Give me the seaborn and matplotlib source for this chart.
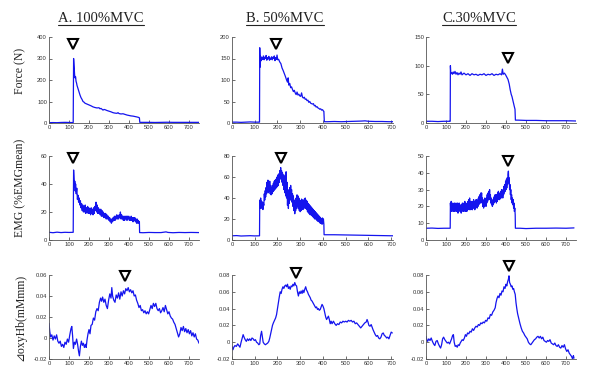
import numpy as np
import pandas as pd
import matplotlib
matplotlib.use("Agg")
import matplotlib.pyplot as plt
import seaborn as sns
from matplotlib.lines import Line2D

sns.set_theme(style="white")
plt.rcParams['font.family'] = ['DejaVu Sans']

# ---------------- data (time s, value) ----------------
titles = ["A. 100%MVC", "B. 50%MVC", "C.30%MVC"]
row_labels = ["Force (N)", "EMG (%EMGmean)", "\u22bfoxyHb(mMmm)"]

force_A = [(0,1.5),(20,2),(40,1.5),(60,2.5),(80,3),(100,2.5),(115,2),(121,2),(123,300),(126,255),(128,225),(130,210),
           (133,215),(135,195),(138,185),(140,175),(145,160),(150,145),(155,130),(160,118),(165,110),(170,100),(175,97),
           (180,92),(190,88),(200,84),(210,80),(220,75),(230,72),(240,70),(250,71),(255,66),(260,68),(270,60),(275,63),
           (280,62),(290,58),(300,55),(310,52),(320,48),(330,46),(340,45),(345,48),(350,44),(360,42),(370,43),(380,40),
           (390,37),(400,35),(410,33),(420,32),(430,30),(440,28),(448,26),(452,24),(454,3),(470,3),(500,3),(530,2.5),
           (560,3),(590,3.5),(620,3),(650,3),(680,3),(710,3),(750,3)]
force_B = [(0,2),(20,2),(40,1.5),(60,2),(80,2.5),(100,2),(118,2),(121,2),(122,175),(124,130),(126,155),(129,145),
           (132,152),(135,148),(138,156),(141,147),(144,153),(147,150),(150,157),(153,146),(156,152),(159,149),(162,155),
           (165,146),(168,151),(171,148),(174,154),(177,147),(180,153),(183,150),(186,156),(189,145),(192,152),(195,148),
           (198,158),(201,147),(205,148),(210,142),(215,138),(220,128),(225,122),(230,115),(235,108),(240,100),(244,95),
           (247,105),(250,88),(254,92),(258,82),(262,84),(266,78),(270,73),(274,76),(278,70),(282,66),(286,72),(290,65),
           (294,67),(298,63),(302,62),(306,70),(310,60),(314,58),(318,60),(322,55),(326,56),(330,52),(334,53),(338,48),
           (342,50),(346,46),(350,45),(354,44),(358,45),(362,40),(366,41),(370,37),(374,38),(378,35),(382,34),(386,32),
           (390,33),(394,30),(398,31),(402,28),(404,27),(406,3),(420,3),(450,3.5),(480,3),(510,3.5),(540,4),(570,4.5),
           (585,5),(600,4),(630,3.5),(660,3.5),(690,3),(708,3)]
force_C = [(0,3),(30,3),(60,2.5),(90,3),(118,3),(121,3),(122,100),(124,86),(128,88),(132,85),(136,89),(140,86),
           (145,90),(150,85),(155,88),(160,84),(165,87),(170,85),(175,89),(180,84),(190,87),(200,84),(210,86),(220,83),
           (230,86),(240,84),(250,85),(260,83),(270,85),(280,84),(290,86),(300,83),(310,85),(320,84),(330,86),(340,83),
           (350,85),(360,84),(370,86),(378,84),(382,94),(386,85),(392,87),(398,84),(404,80),(410,76),(416,68),(421,58),
           (426,50),(430,46),(434,40),(438,34),(442,28),(445,24),(447,5),(460,5),(500,4.5),(550,4.5),(600,4),(650,4),
           (700,4),(750,3.5)]

emg_A = [(0,5.5),(20,5.2),(40,5.6),(60,5.3),(80,5.5),(100,5.4),(118,5.5),(121,5.5),(123,50),(125,44),(127,38),
         (129,42),(131,35),(133,40),(136,33),(139,37),(142,29),(145,32),(148,27),(151,30),(154,25),(157,28),(160,23),
         (163,26),(166,21),(169,25),(172,20),(175,24),(178,20),(181,25),(184,19),(187,23),(190,20),(193,24),(196,19),
         (199,23),(202,19),(205,22),(208,18),(211,23),(214,19),(217,22),(220,18),(223,23),(226,19),(229,24),(232,21),
         (235,27),(238,20),(241,25),(244,19),(247,23),(250,19),(253,22),(256,18),(259,22),(262,17),(265,21),(268,17),
         (271,20),(274,16),(277,19),(280,16),(283,19),(286,15),(289,18),(292,15),(297,17),(300,14),(303,16),(306,13),
         (309,15),(312,12),(315,15),(318,13),(321,16),(324,14),(327,17),(330,14),(333,17),(336,15),(339,18),(342,15),
         (345,17),(348,15),(351,18),(354,16),(357,20),(360,15),(363,18),(366,15),(369,17),(372,14),(375,17),(378,14),
         (381,17),(384,15),(387,17),(390,14),(393,17),(396,15),(399,17),(402,14),(405,16),(408,14),(411,17),(414,14),
         (417,16),(420,13),(423,16),(426,14),(429,16),(432,13),(435,15),(438,12),(441,15),(444,12),(447,14),(450,12),
         (452,13),(453,5.3),(470,5.2),(500,5.4),(530,5.3),(560,5.3),(585,5.8),(595,5.4),(620,5.2),(650,5.4),(680,5.3),
         (710,5.4),(750,5.3)]
emg_B = [(0,4),(20,4.2),(40,3.8),(60,4),(80,4.1),(100,3.9),(120,4),(121,4),(122,38),(124,30),(126,40),(128,31),
         (130,37),(132,30),(134,36),(136,29),(138,35),(140,33),(142,44),(144,38),(146,47),(148,41),(150,50),(152,44),
         (154,55),(156,46),(158,57),(160,45),(162,54),(164,47),(166,56),(168,44),(170,52),(172,43),(174,50),(176,44),
         (178,52),(180,46),(182,54),(184,47),(186,56),(188,48),(190,57),(192,49),(194,58),(196,50),(198,60),(200,51),
         (202,62),(204,52),(206,63),(208,55),(210,66),(212,58),(214,69),(216,60),(218,66),(220,55),(222,64),(224,52),
         (226,62),(228,48),(230,60),(232,45),(234,62),(236,42),(238,65),(240,40),(242,55),(244,33),(246,48),(248,30),
         (250,45),(252,35),(254,50),(256,38),(258,52),(260,40),(262,48),(264,36),(266,44),(268,32),(270,42),(272,28),
         (274,38),(276,25),(278,35),(280,28),(282,40),(284,30),(286,43),(288,32),(290,42),(292,30),(294,40),(296,28),
         (298,38),(300,27),(302,37),(304,28),(306,39),(308,30),(310,38),(312,29),(314,37),(316,30),(318,39),(320,31),
         (322,40),(324,30),(326,38),(328,29),(330,37),(332,27),(334,35),(336,26),(338,34),(340,25),(342,33),(344,24),
         (346,32),(348,24),(350,31),(352,23),(354,30),(356,22),(358,29),(360,21),(362,28),(364,20),(366,27),(368,20),
         (370,26),(372,19),(374,25),(376,18),(378,24),(380,18),(382,23),(384,17),(386,22),(388,16),(390,21),(392,16),
         (394,20),(396,15),(398,21),(400,16),(402,20),(404,15),(405,5),(420,5),(450,5),(500,4.8),(550,4.5),(600,4.4),
         (650,4.2),(700,4),(708,4)]
emg_C = [(0,7),(30,7.1),(60,6.9),(90,7),(119,7),(121,7),(122,22),(124,18),(126,23),(128,17),(130,21),(132,18),
         (134,22),(136,17),(138,21),(140,18),(142,22),(144,17),(146,20),(148,18),(150,22),(152,17),(154,21),(156,18),
         (158,22),(160,16),(162,21),(164,17),(166,22),(168,18),(170,21),(172,17),(174,20),(176,16),(178,21),(180,17),
         (182,22),(184,18),(186,21),(188,17),(190,22),(192,18),(194,23),(196,17),(198,22),(200,18),(202,21),(204,17),
         (206,22),(208,18),(210,23),(212,19),(214,24),(216,18),(218,25),(220,19),(222,23),(224,18),(226,22),(228,19),
         (230,23),(232,18),(234,22),(236,19),(238,24),(240,19),(242,23),(244,18),(246,22),(248,19),(250,24),(252,20),
         (254,24),(256,19),(258,23),(260,20),(262,25),(264,21),(266,26),(268,22),(270,27),(272,22),(274,28),(276,23),
         (278,28),(280,22),(282,25),(284,20),(286,23),(288,19),(290,24),(292,20),(294,25),(296,21),(298,23),(300,20),
         (302,25),(304,22),(306,27),(308,23),(310,28),(312,24),(314,29),(316,25),(318,30),(320,24),(322,27),(324,22),
         (326,25),(328,21),(330,24),(332,20),(334,23),(336,21),(338,25),(340,22),(342,26),(344,23),(346,27),(348,23),
         (350,26),(352,22),(354,27),(356,23),(358,28),(360,24),(362,29),(364,25),(366,28),(368,24),(370,27),(372,25),
         (374,29),(376,25),(378,30),(380,26),(382,29),(384,25),(386,30),(388,27),(390,32),(392,28),(394,33),(396,29),
         (398,35),(400,30),(402,36),(404,31),(406,37),(408,33),(410,39),(412,41),(414,34),(416,37),(418,30),(420,33),
         (422,27),(424,30),(426,24),(428,27),(430,22),(432,25),(434,21),(436,24),(438,19),(440,22),(442,17),(444,19),
         (446,15),(447,7),(470,7),(500,6.8),(550,7),(600,7),(650,7.1),(700,7),(740,7.2)]

oxy_A = [(0,0.014),(4,0.006),(8,0.001),(14,0.003),(20,-0.002),(26,0.002),(32,-0.001),(38,0.003),(44,-0.003),
         (50,-0.005),(56,-0.003),(62,-0.008),(68,-0.006),(74,-0.009),(80,-0.004),(86,-0.006),(92,-0.001),(98,-0.004),
         (104,0.003),(110,0.009),(114,0.011),(118,0.002),(122,-0.01),(127,-0.004),(132,-0.006),(138,-0.001),
         (143,-0.006),(148,-0.013),(152,-0.017),(157,-0.008),(162,-0.003),(167,-0.007),(172,-0.005),(177,-0.009),
         (182,-0.006),(186,-0.009),(190,-0.002),(195,0.004),(200,0.008),(205,0.004),(210,0.012),(216,0.013),
         (222,0.019),(228,0.017),(234,0.025),(240,0.028),(246,0.026),(252,0.034),(258,0.038),(263,0.035),(268,0.039),
         (274,0.034),(280,0.037),(286,0.031),(292,0.028),(298,0.036),(304,0.042),(310,0.038),(314,0.048),(318,0.040),
         (324,0.036),(330,0.034),(336,0.041),(342,0.038),(348,0.043),(354,0.037),(360,0.044),(366,0.040),(372,0.045),
         (378,0.042),(384,0.047),(390,0.045),(396,0.048),(402,0.044),(408,0.046),(414,0.043),(420,0.045),(426,0.040),
         (432,0.041),(438,0.036),(444,0.033),(450,0.029),(456,0.031),(462,0.026),(468,0.027),(474,0.024),(480,0.026),
         (486,0.023),(492,0.025),(498,0.023),(504,0.027),(510,0.031),(516,0.028),(522,0.033),(528,0.030),(534,0.033),
         (540,0.028),(546,0.026),(552,0.028),(558,0.024),(564,0.026),(570,0.029),(576,0.025),(582,0.031),(588,0.027),
         (594,0.023),(600,0.025),(606,0.021),(612,0.019),(618,0.018),(624,0.015),(630,0.013),(636,0.009),(642,0.005),
         (648,0.001),(654,0.004),(660,0.010),(666,0.007),(672,0.011),(678,0.006),(684,0.009),(690,0.005),(696,0.008),
         (702,0.004),(708,0.007),(714,0.002),(720,0.005),(726,0.001),(732,0.004),(738,-0.001),(744,-0.002),(750,-0.005)]
oxy_B = [(0,-0.005),(4,-0.009),(8,-0.006),(13,-0.004),(19,-0.005),(25,-0.002),(30,-0.004),(35,-0.006),(40,0.0),
         (45,0.005),(49,0.009),(53,0.006),(58,0.003),(63,0.001),(68,0.004),(73,0.002),(78,0.004),(83,0.002),(88,0.005),
         (93,0.004),(98,0.002),(103,0.003),(108,0.0),(113,-0.001),(118,-0.003),(122,-0.002),(126,0.008),(130,0.013),
         (134,0.006),(137,0.0),(142,-0.002),(147,-0.003),(152,-0.002),(157,-0.001),(162,0.001),(166,0.005),(170,0.01),
         (174,0.015),(178,0.02),(182,0.023),(187,0.026),(192,0.029),(196,0.033),(200,0.04),(204,0.047),(208,0.054),
         (212,0.06),(216,0.058),(220,0.063),(224,0.066),(228,0.064),(232,0.067),(236,0.068),(240,0.066),(244,0.069),
         (248,0.064),(252,0.066),(256,0.063),(260,0.067),(264,0.066),(268,0.069),(272,0.067),(276,0.071),(280,0.068),
         (284,0.067),(288,0.06),(292,0.055),(296,0.06),(300,0.058),(304,0.061),(308,0.058),(312,0.062),(316,0.059),
         (320,0.063),(324,0.066),(328,0.062),(332,0.06),(336,0.057),(340,0.055),(344,0.053),(348,0.05),(352,0.049),
         (356,0.047),(360,0.045),(364,0.043),(368,0.041),(372,0.042),(376,0.039),(380,0.04),(384,0.038),(388,0.039),
         (392,0.042),(396,0.045),(400,0.043),(404,0.04),(408,0.035),(412,0.03),(416,0.027),(420,0.029),(424,0.031),
         (428,0.027),(432,0.022),(436,0.025),(440,0.022),(446,0.025),(452,0.022),(458,0.02),(464,0.022),(470,0.021),
         (476,0.024),(482,0.023),(488,0.025),(494,0.024),(500,0.025),(506,0.024),(512,0.026),(518,0.025),(524,0.026),
         (530,0.024),(536,0.025),(542,0.022),(548,0.023),(554,0.021),(560,0.019),(566,0.017),(572,0.019),(578,0.021),
         (584,0.023),(590,0.024),(594,0.027),(598,0.024),(602,0.02),(607,0.019),(612,0.021),(616,0.018),(620,0.015),
         (625,0.012),(630,0.009),(635,0.007),(640,0.008),(645,0.005),(650,0.004),(655,0.006),(660,0.01),(665,0.011),
         (670,0.008),(675,0.007),(680,0.005),(685,0.006),(690,0.004),(695,0.008),(700,0.012),(705,0.011)]
oxy_C = [(0,0.007),(4,0.003),(8,0.001),(14,0.004),(20,0.002),(26,0.005),(32,0.001),(38,-0.002),(44,-0.004),
         (50,0.001),(56,0.002),(62,-0.002),(68,-0.005),(73,-0.007),(78,-0.003),(83,0.004),(88,0.006),(94,0.003),
         (100,0.001),(106,-0.001),(112,0.0),(118,-0.002),(123,0.001),(128,0.004),(133,0.008),(137,0.009),(141,0.0),
         (146,-0.005),(151,-0.004),(156,-0.006),(161,-0.003),(166,-0.004),(171,-0.001),(176,0.001),(181,0.003),
         (186,0.002),(192,0.005),(197,0.009),(202,0.007),(208,0.011),(214,0.01),(220,0.013),(226,0.012),(232,0.016),
         (238,0.014),(244,0.017),(250,0.019),(256,0.018),(262,0.021),(268,0.02),(274,0.023),(280,0.022),(286,0.024),
         (292,0.023),(298,0.026),(304,0.025),(310,0.029),(316,0.028),(322,0.033),(328,0.032),(334,0.036),(340,0.038),
         (346,0.041),(350,0.047),(355,0.052),(360,0.055),(365,0.053),(370,0.058),(375,0.056),(380,0.061),(385,0.06),
         (390,0.066),(395,0.064),(400,0.069),(404,0.067),(408,0.072),(412,0.075),(415,0.079),(418,0.071),(422,0.069),
         (426,0.066),(430,0.067),(434,0.063),(438,0.064),(442,0.06),(446,0.057),(450,0.047),(454,0.04),(458,0.034),
         (462,0.03),(466,0.026),(470,0.022),(476,0.017),(482,0.013),(488,0.011),(494,0.008),(500,0.006),(506,0.004),
         (512,0.0),(518,-0.002),(524,-0.003),(530,-0.001),(536,0.001),(542,0.003),(548,0.004),(554,0.006),(560,0.007),
         (566,0.005),(572,0.007),(578,0.004),(584,0.006),(590,0.002),(596,0.001),(602,0.0),(608,0.002),(614,0.001),
         (620,0.003),(626,-0.001),(632,-0.002),(638,-0.003),(644,-0.001),(650,-0.004),(656,-0.005),(662,-0.003),
         (668,-0.006),(674,-0.007),(680,-0.004),(686,-0.006),(692,-0.003),(698,-0.008),(704,-0.011),(710,-0.009),
         (716,-0.013),(722,-0.015),(728,-0.017),(733,-0.02),(737,-0.016),(740,-0.019)]

# peak markers (x, y) per row, per column
peaks_force = [(118, 366), (194, 184), (409, 113)]
peaks_emg = [(118, 58.6), (217, 78), (409, 46.9)]
peaks_oxy = [(378, 0.0593), (282, 0.082), (414, 0.0907)]

# axis ranges and ticks
xlims = [(0, 750), (0, 708), (0, 750)]
xticks = [0, 100, 200, 300, 400, 500, 600, 700]
ylims = [[(0, 400), (0, 200), (0, 150)],
         [(0, 60), (0, 80), (0, 50)],
         [(-0.02, 0.06), (-0.02, 0.08), (-0.02, 0.08)]]
yticks = [[[0, 100, 200, 300, 400], [0, 50, 100, 150, 200], [0, 50, 100, 150]],
          [[0, 20, 40, 60], [0, 20, 40, 60, 80], [0, 10, 20, 30, 40, 50]],
          [[-0.02, 0, 0.02, 0.04, 0.06], [-0.02, 0, 0.02, 0.04, 0.06, 0.08], [-0.02, 0, 0.02, 0.04, 0.06, 0.08]]]

series = [[force_A, force_B, force_C], [emg_A, emg_B, emg_C], [oxy_A, oxy_B, oxy_C]]
peaks = [peaks_force, peaks_emg, peaks_oxy]

# ---------------- layout ----------------
W, H = 594, 383
fig = plt.figure(figsize=(W / 100, H / 100), dpi=100)
col_px = [(49, 199), (232, 393), (426, 576)]
row_px = [(37, 123), (156, 240), (275, 359)]
line_color = "#1414ee"
tick_font = ['Liberation Sans Narrow', 'Liberation Sans', 'DejaVu Sans']

axes = []
for r in range(3):
    for c in range(3):
        x0, x1 = col_px[c]
        y0, y1 = row_px[r]
        ax = fig.add_axes([x0 / W, (H - y1) / H, (x1 - x0) / W, (y1 - y0) / H])
        df = pd.DataFrame(series[r][c], columns=["t", "v"])
        sns.lineplot(data=df, x="t", y="v", ax=ax, color=line_color, lw=0.9,
                     estimator=None, sort=False)
        px, py = peaks[r][c]
        ax.plot([px], [py], marker="v", ms=7.2, mfc="white", mec="black", mew=1.5,
                ls="none", clip_on=False, zorder=6)
        ax.set_xlim(*xlims[c])
        ax.set_ylim(*ylims[r][c])
        ax.set_xticks(xticks)
        ax.set_xticklabels([f"{v:g}" for v in xticks])
        ax.set_yticks(yticks[r][c])
        ax.set_yticklabels([f"{v:g}" for v in yticks[r][c]])
        ax.set_xlabel("")
        ax.set_ylabel("")
        for s in ["top", "right"]:
            ax.spines[s].set_visible(False)
        for s in ["left", "bottom"]:
            ax.spines[s].set_color("#555555")
            ax.spines[s].set_linewidth(0.6)
        ax.tick_params(direction="in", length=2, width=0.5, pad=1.5, colors="#333333",
                       labelsize=4.2, left=True, bottom=True)
        for lab in ax.get_xticklabels() + ax.get_yticklabels():
            lab.set_family(tick_font)
        ax.set_facecolor("white")
        axes.append(ax)

serif = ['Liberation Serif', 'DejaVu Serif', 'DejaVu Sans']
title_x = [101, 285, 479]
title_texts = []
for c in range(3):
    t = fig.text(title_x[c] / W, (H - 19) / H, titles[c], ha="center", va="center",
                 fontsize=10.5, family=serif, color="#222222")
    title_texts.append(t)

label_y = [71, 188, 317]
for r in range(3):
    fig.text(20 / W, (H - label_y[r]) / H, row_labels[r], ha="center", va="center",
             rotation=90, fontsize=8.5, family=serif, color="#222222")

fig.canvas.draw()
renderer = fig.canvas.get_renderer()
for t in title_texts:
    bb = t.get_window_extent(renderer)
    yline = (H - 25) / H
    fig.add_artist(Line2D([bb.x0 / W, bb.x1 / W], [yline, yline], transform=fig.transFigure,
                          color="#222222", lw=0.8))

fig.savefig("out.png", dpi=100, facecolor="white")
